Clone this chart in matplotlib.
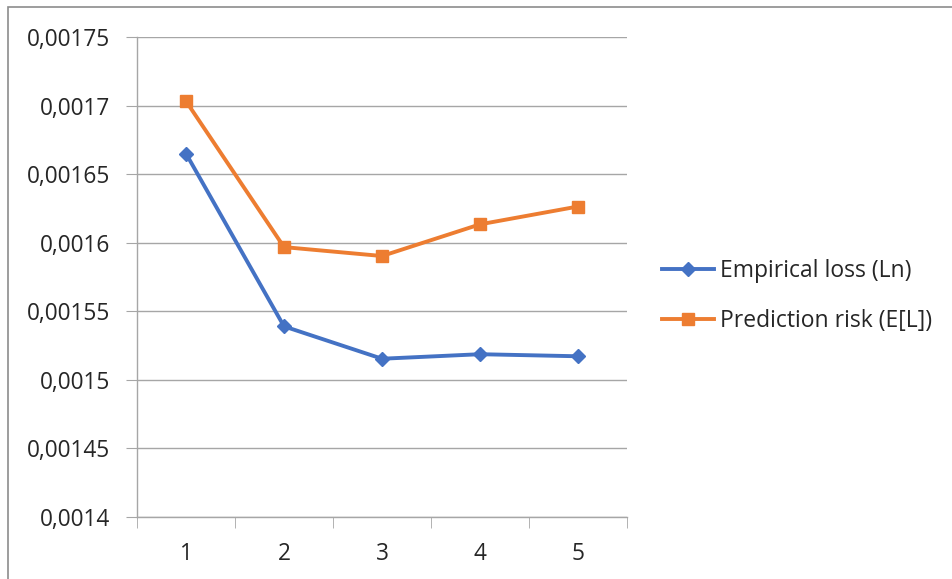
import matplotlib
matplotlib.use("Agg")
import matplotlib.pyplot as plt
from matplotlib.ticker import FixedLocator
from matplotlib.patches import Rectangle

plt.rcParams["font.family"] = ["Open Sans", "DejaVu Sans"]

# data
steps = [1, 2, 3, 4, 5]
empirical_loss = [0.0016650, 0.0015390, 0.0015154, 0.0015187, 0.0015172]
prediction_risk = [0.0017032, 0.0015968, 0.0015903, 0.0016134, 0.0016264]
y_ticks = [0.0014, 0.00145, 0.0015, 0.00155, 0.0016, 0.00165, 0.0017, 0.00175]
y_labels = ["0,0014", "0,00145", "0,0015", "0,00155", "0,0016", "0,00165", "0,0017", "0,00175"]

W, H = 953, 579
fig = plt.figure(figsize=(W / 100, H / 100), dpi=100)
ax = fig.add_axes([137 / W, 1 - 517 / H, (627 - 137) / W, (517 - 37) / H])

# chart frame (only top and left edges fall inside the image)
fig.patches.append(Rectangle((8 / W, -0.1), 1.2, 1 - 7 / H + 0.1, transform=fig.transFigure,
                             fill=False, edgecolor="#8c8c8c", linewidth=1.2))

blue = "#4472c4"
orange = "#ed7d31"
ax.plot(steps, empirical_loss, color=blue, lw=2.8, marker="D", ms=7,
        label="Empirical loss (Ln)")
ax.plot(steps, prediction_risk, color=orange, lw=2.8, marker="s", ms=8,
        label="Prediction risk (E[L])")

ax.set_xlim(0.5, 5.5)
ax.set_ylim(0.0014, 0.00175)
ax.yaxis.set_major_locator(FixedLocator(y_ticks))
ax.set_yticklabels(y_labels)
ax.set_xticks(steps)
ax.set_xticks([0.5 + i for i in range(6)], minor=True)

ax.grid(axis="y", color="#a6a6a6", lw=1.0)
ax.set_axisbelow(True)
for s in ["top", "right"]:
    ax.spines[s].set_visible(False)
for s in ["left", "bottom"]:
    ax.spines[s].set_color("#a6a6a6")
    ax.spines[s].set_linewidth(1.0)

ax.tick_params(axis="y", length=8, color="#a6a6a6", labelsize=16.3, pad=11, labelcolor="#262626")
ax.tick_params(axis="x", which="major", length=0, labelsize=16.3, pad=18, labelcolor="#262626")
ax.tick_params(axis="x", which="minor", length=8, color="#a6a6a6")

leg = fig.legend(loc="center left", bbox_to_anchor=(641 / W, 1 - 296 / H), frameon=False,
                 fontsize=16.5, handlelength=2.3, handletextpad=0.25, labelspacing=1.1)
for t in leg.get_texts():
    t.set_color("#262626")

fig.savefig("out.png", dpi=100, facecolor="white")
